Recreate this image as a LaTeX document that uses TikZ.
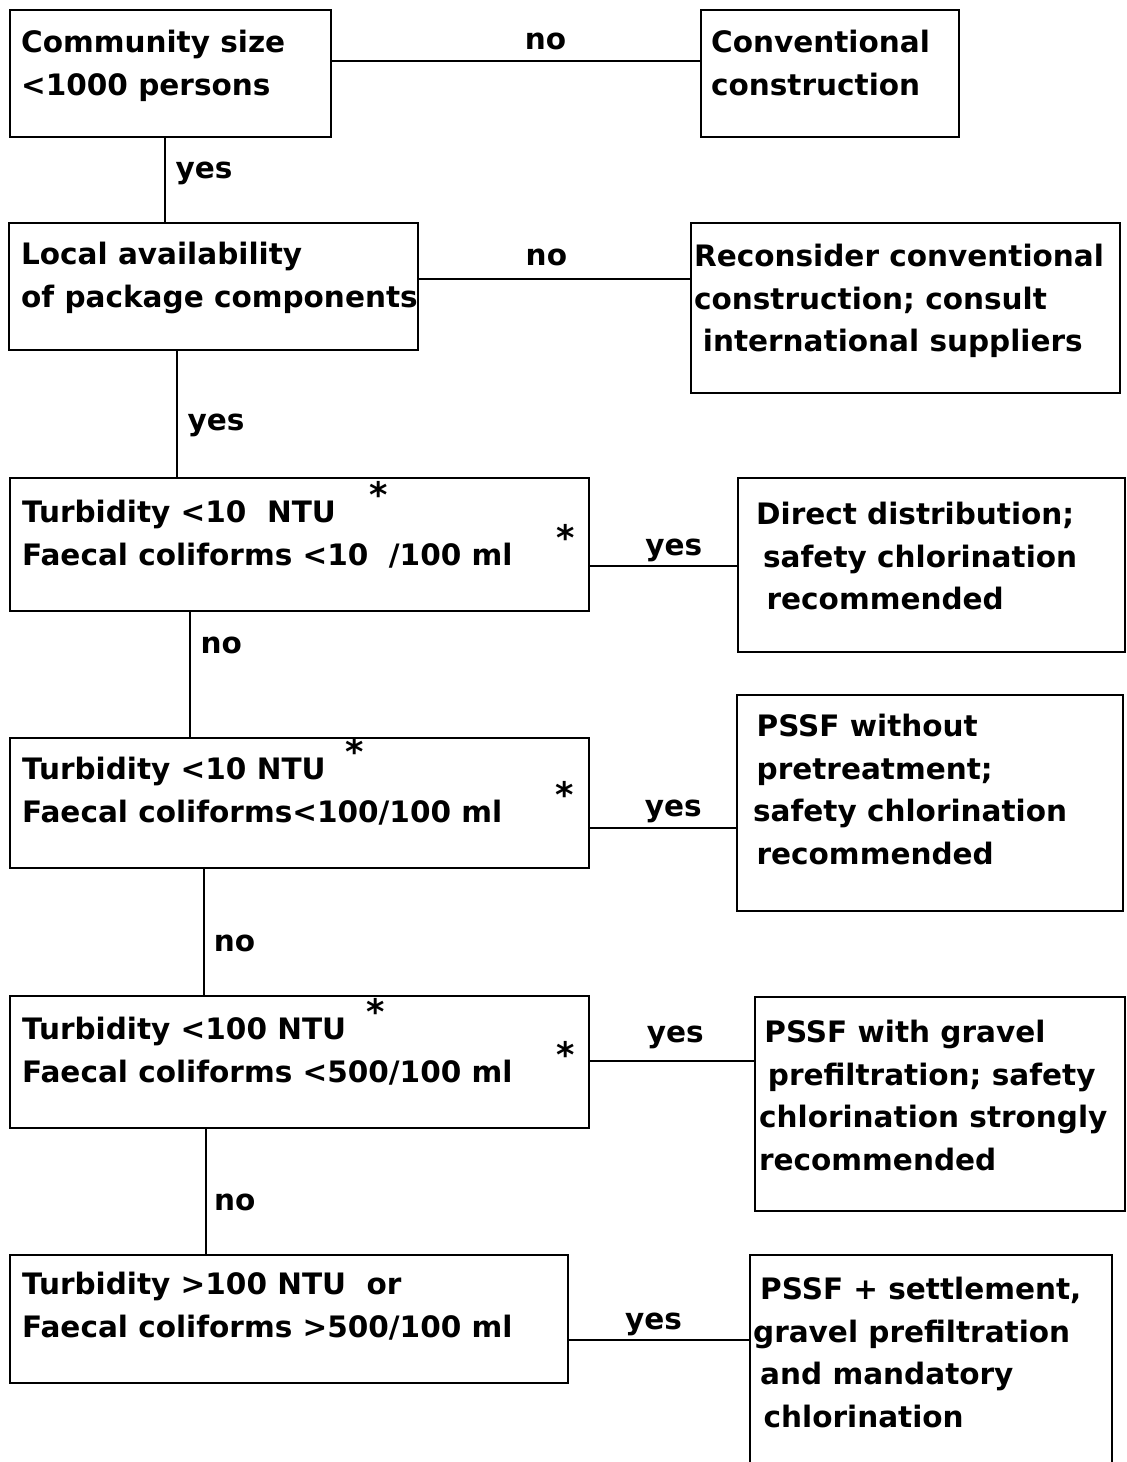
\documentclass[tikz,border=0pt]{standalone}
\usepackage{fontspec}
\setmainfont{DejaVu Sans}
\usetikzlibrary{fit}

\newcommand{\fnstar}{\smash{\raisebox{0.5em}{\fontsize{20}{20}\selectfont *}}}

\begin{document}
\begin{tikzpicture}[
	x=0.02cm, y=-0.02cm,
	font=\bfseries\fontsize{16.8}{24.2}\selectfont,
	box/.style={rectangle, draw, line width=1.4pt, inner sep=0pt},
	txt/.style={anchor=north west, inner sep=0pt, align=left},
	lbl/.style={inner sep=1.5pt},
	link/.style={line width=1.2pt}
]
\clip (0,0) rectangle (1126,1462);

% --- Boxes, corner to corner ---
\node[box, fit={(10,10) (331,137)}] (b1) {};
\node[box, fit={(701,10) (959,137)}] (b2) {};
\node[box, fit={(9,223) (418,350)}] (b3) {};
\node[box, fit={(691,223) (1120,393)}] (b4) {};
\node[box, fit={(10,478) (589,611)}] (b5) {};
\node[box, fit={(738,478) (1125,652)}] (b6) {};
\node[box, fit={(10,738) (589,868)}] (b7) {};
\node[box, fit={(737,695) (1123,911)}] (b8) {};
\node[box, fit={(10,996) (589,1128)}] (b9) {};
\node[box, fit={(755,997) (1125,1211)}] (b10) {};
\node[box, fit={(10,1255) (568,1383)}] (b11) {};
\node[box, fit={(750,1255) (1112,1520)}] (b12) {};

% --- Box texts ---
\node[txt] (t1) at ([shift={(12,21)}]b1.north west) {Community size\\<1000 persons};
\node[txt] (t2) at ([shift={(11,21)}]b2.north west) {Conventional\\construction};
\node[txt] (t3) at ([shift={(13,20)}]b3.north west) {Local availability\\of package components};
\node[txt] (t4) at ([shift={(4,22)}]b4.north west) {Reconsider conventional\\construction; consult\\\hspace*{5pt}international suppliers};
\node[txt] (t5) at ([shift={(13,23)}]b5.north west) {Turbidity <10\ \ NTU\hspace{1.15em}\fnstar\\Faecal coliforms <10\ \ /100 ml\hspace{1.5em}\fnstar};
\node[txt] (t6) at ([shift={(19,25)}]b6.north west) {Direct distribution;\\\hspace*{4pt}safety chlorination\\\hspace*{6pt}recommended};
\node[txt] (t7) at ([shift={(13,20)}]b7.north west) {Turbidity <10 NTU\hspace{0.68em}\fnstar\\Faecal coliforms<100/100 ml\hspace{1.8em}\fnstar};
\node[txt] (t8) at ([shift={(17,20)}]b8.north west) {\hspace*{2pt}PSSF without\\\hspace*{2pt}pretreatment;\\safety chlorination\\\hspace*{2pt}recommended};
\node[txt] (t9) at ([shift={(13,22)}]b9.north west) {Turbidity <100 NTU\hspace{0.7em}\fnstar\\Faecal coliforms <500/100 ml\hspace{1.5em}\fnstar};
\node[txt] (t10) at ([shift={(5,24)}]b10.north west) {\hspace*{3pt}PSSF with gravel\\\hspace*{5pt}prefiltration; safety\\chlorination strongly\\recommended};
\node[txt] (t11) at ([shift={(13,18)}]b11.north west) {Turbidity >100 NTU\ \ or\\Faecal coliforms >500/100 ml};
\node[txt] (t12) at ([shift={(4,23)}]b12.north west) {\hspace*{4pt}PSSF + settlement,\\gravel prefiltration\\\hspace*{4pt}and mandatory\\\hspace*{6pt}chlorination};

% --- "no" branches to the right ---
\draw[link] (b1.east |- 0,61) -- node[lbl, above=4pt, pos=0.58] {no} (b2.west |- 0,61);
\draw[link] (b3.east |- 0,279) -- node[lbl, above=5.5pt, pos=0.47] {no} (b4.west |- 0,279);

% --- "yes" branches to the right ---
\draw[link] (b5.east |- 0,566) -- node[lbl, above, pos=0.57] {yes} (b6.west |- 0,566);
\draw[link] (b7.east |- 0,828) -- node[lbl, above=1pt, pos=0.57] {yes} (b8.west |- 0,828);
\draw[link] (b9.east |- 0,1061) -- node[lbl, above=5pt, pos=0.52] {yes} (b10.west |- 0,1061);
\draw[link] (b11.east |- 0,1340) -- node[lbl, above, pos=0.47] {yes} (b12.west |- 0,1340);

% --- Downward chain ---
\draw[link] (b1.south -| 165,0) -- node[lbl, right=4pt, pos=0.42] {yes} (b3.north -| 165,0);
\draw[link] (b3.south -| 177,0) -- node[lbl, right=4pt, pos=0.59] {yes} (b5.north -| 177,0);
\draw[link] (b5.south -| 190,0) -- node[lbl, right=4pt, pos=0.27] {no} (b7.north -| 190,0);
\draw[link] (b7.south -| 204,0) -- node[lbl, right=3.5pt, pos=0.59] {no} (b9.north -| 204,0);
\draw[link] (b9.south -| 206,0) -- node[lbl, right=2.5pt, pos=0.59] {no} (b11.north -| 206,0);

\end{tikzpicture}
\end{document}
